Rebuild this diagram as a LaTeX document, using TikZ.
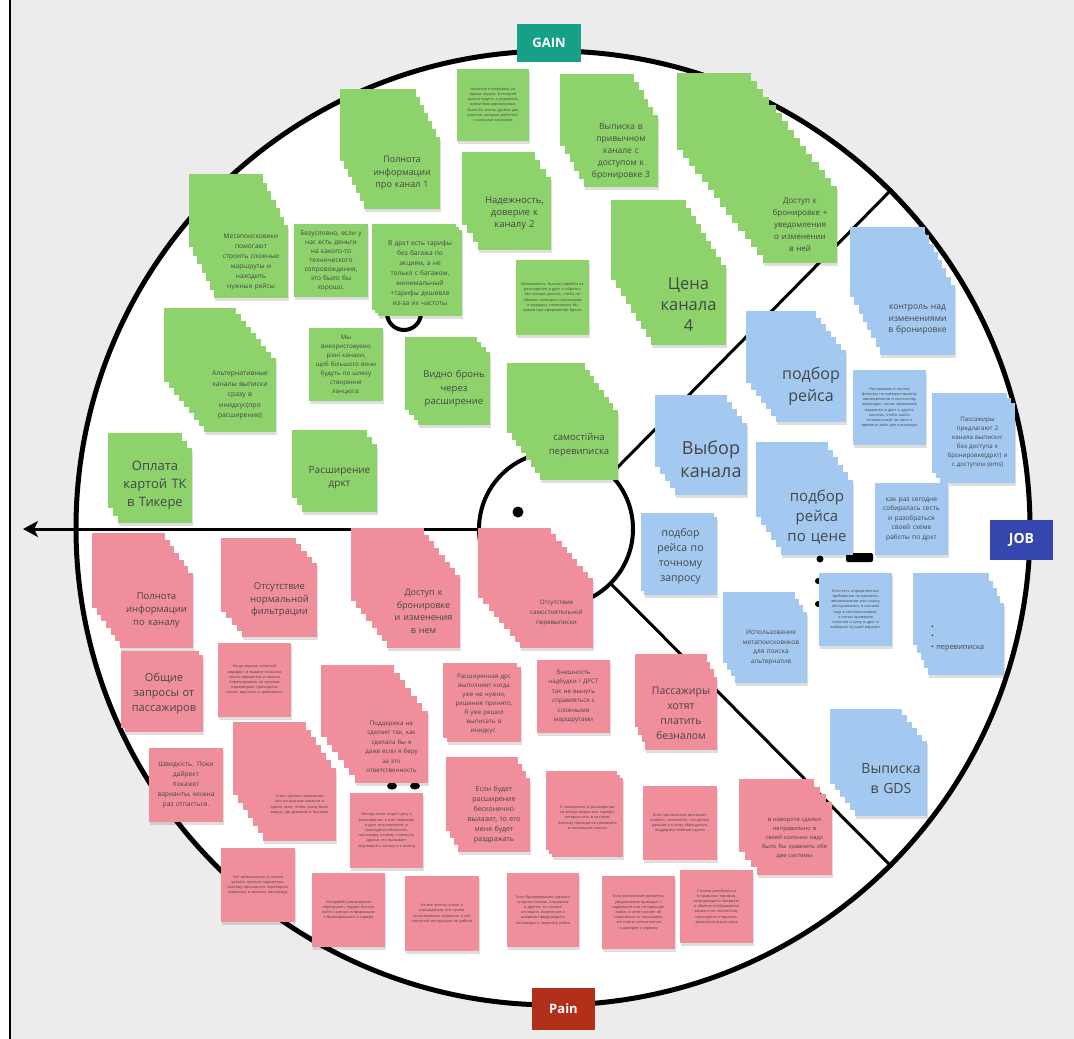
\documentclass[tikz,border=0pt]{standalone}
\usepackage{fontspec}
\setmainfont{Open Sans}
\usetikzlibrary{calc,arrows.meta}
\definecolor{gn}{RGB}{142,210,108}
\definecolor{pk}{RGB}{240,142,156}
\definecolor{bl}{RGB}{163,201,240}
\definecolor{teal}{RGB}{22,160,133}
\definecolor{jobblue}{RGB}{53,70,175}
\definecolor{painred}{RGB}{178,48,26}
\definecolor{bg}{RGB}{236,236,236}
\definecolor{txt}{RGB}{70,70,70}
\newcommand\fs[2]{\fontsize{#1}{#2}\selectfont}
\newcommand\tinytxt{\fs{3.8}{5.2}}
\tikzset{
  note/.style={inner sep=1pt, outer sep=0pt, align=center, text=txt, anchor=north west},
  label box/.style={text=white, font=\bfseries\fs{13}{15}, inner sep=0pt, outer sep=0pt},
}
% stacked note: name, colour, back top-left, W, H, layers, total offset, options, text
\newcommand\stk[9]{%
  \fill[black,opacity=.13] ($(#3)+(#7)+(1,3)$) rectangle ++(#4,#5);
  \foreach \i in {0,...,#6}{\pgfmathsetmacro\f{\i/#6}\fill[#2] ($(#3)+\f*(#7)$) rectangle ++(#4,#5);}
  \pgfmathsetmacro\tw{#4-4}
  \node[note, fill=#2, minimum width=#4pt, minimum height=#5pt, text width=\tw pt, #8] (#1) at ($(#3)+(#7)$) {#9};
}
% single note: name, colour, top-left, W, H, options, text
\newcommand\snt[7]{%
  \fill[black,opacity=.13] ($(#3)+(1,3)$) rectangle ++(#4,#5);
  \pgfmathsetmacro\tw{#4-4}
  \node[note, fill=#2, minimum width=#4pt, minimum height=#5pt, text width=\tw pt, #6] (#1) at (#3) {#7};
}
\begin{document}
\begin{tikzpicture}[x=1pt,y=-1pt]
\useasboundingbox (0,0) rectangle (1074,1039);
\fill[bg] (0,0) rectangle (1074,1039);
\fill[white] (0,0) rectangle (10,1039);
\draw[line width=2pt] (10,0) -- (10,1039);

% circles and dividers
\node[circle, draw=black, line width=5pt, fill=white, minimum size=954pt, inner sep=0pt] (outer) at (553,528) {};
\node[circle, draw=black, line width=4pt, minimum size=154pt, inner sep=0pt] (inner) at (556,529) {};
\node[circle, fill=black, minimum size=11pt, inner sep=0pt] (dot) at (518,512) {};
\coordinate (tip) at (23,529);
\draw[line width=3pt] (inner.45) -- (outer.45);
\draw[line width=3pt] (inner.-45) -- (outer.-45);
\draw[line width=3pt, -{Stealth[length=15pt,width=16pt,inset=4pt]}] (inner.west) -- (tip);

% black fragments peeking out under notes
\draw[line width=4pt] (404,313) circle (17);
\fill[rounded corners=2pt] (846,553) rectangle (873,562);
\fill (820,559) circle (3.5) (818,581) circle (3) (818,604) circle (3);
\fill (392,786) ellipse (5 and 3.5) (415,786) ellipse (5 and 3.5);

% ---------------- GAIN (green) ----------------
\stk{g1}{gn}{340,89}{76}{72}{6}{24,48}{font=\fs{9}{12.5}}{Полнота\\информации\\про канал 1}
\snt{g2}{gn}{457,69}{72}{72}{font=\tinytxt, text width=62pt}{Наличие платформы на одном экране, в которой можно видеть и управлять всеми бронированиями, было бы очень удобно для агентов, которые работают с разными каналами}
\stk{g3}{gn}{560,74}{74}{72}{5}{24,41}{font=\fs{8.5}{12}}{Выписка в\\привычном\\канале с\\доступом к\\бронировке 3}
\stk{g4}{gn}{462,152}{73}{73}{3}{16,25}{font=\fs{9.5}{12}}{Надежность,\\доверие к\\каналу 2}
\snt{g5}{gn}{516,260}{73}{75}{font=\tinytxt, text width=62pt}{Возможность быстро перейти из расширения в дркт и обратно без потери данных, чтобы не вбивать повторно пассажиров и маршрут, сэкономило бы время при оформлении брони}
\stk{g6}{gn}{611,200}{75}{80}{8}{40,65}{font=\fs{16.5}{21}}{Цена\\канала\\4}
\stk{g7}{gn}{677,73}{74}{77}{14}{86,113}{font=\fs{8}{12}}{Доступ к\\бронировке +\\уведомления\\о изменении\\в ней}
\stk{g8}{gn}{189,174}{74}{73}{6}{25,51}{font=\fs{6.6}{10}}{Метапоисковики\\помогают\\строить сложные\\маршруты и\\находить\\нужные рейсы}
\snt{g9}{gn}{294,224}{74}{73}{font=\fs{6.6}{9}}{Безусловно, если у\\нас есть деньги\\на какого-то\\технического\\сопровождения,\\это было бы\\хорошо.}
\stk{g10}{gn}{372,224}{84}{86}{2}{6,6}{font=\fs{6.6}{10}}{В дркт есть тарифы\\без багажа по\\акциям, а не\\только с багажом,\\минимальный\\+тарифы дешевле\\из-за их частоты}
\stk{g11}{gn}{164,308}{72}{74}{8}{40,50}{font=\fs{6.8}{10.5}}{Альтернативные\\каналы выписки\\сразу в\\инидкус(про\\расширение)}
\snt{g12}{gn}{309,328}{74}{73}{font=\fs{6.2}{9}}{Мы\\використовуємо\\різні канали,\\щоб більшого вони\\будуть по шляху\\створення\\ланцюга.}
\stk{g13}{gn}{405,337}{72}{73}{3}{13,15}{font=\fs{9.5}{13.5}}{Видно бронь\\через\\расширение}
\stk{g14}{gn}{108,433}{74}{75}{2}{10,15}{font=\fs{13}{18}}{Оплата\\картой ТК\\в Тикере}
\stk{g15}{gn}{292,430}{75}{68}{2}{10,14}{font=\fs{10}{13}}{Расширение\\дркт}
\stk{g16}{gn}{507,363}{78}{70}{7}{33,47}{font=\fs{9.5}{14}}{самостійна\\перевиписка}

% ---------------- JOB (blue) ----------------
\stk{b1}{bl}{850,227}{75}{70}{7}{30,58}{font=\fs{8.5}{11.5}}{контроль над\\изменениями\\в бронировке}
\stk{b2}{bl}{746,311}{70}{72}{6}{30,39}{font=\fs{16}{22}}{подбор\\рейса}
\snt{b3}{bl}{853,370}{73}{75}{font=\tinytxt, text width=62pt}{Настраиваю в поиске фильтры по времени вылета, авиакомпании и количеству пересадок, потом сравниваю варианты в дркт и других каналах, чтобы найти оптимальный по цене и времени рейс для пассажира}
\stk{b4}{bl}{932,393}{75}{80}{2}{8,10}{font=\fs{6.2}{9}}{Пассажиры\\предлагают 2\\канала выписки:\\без доступа к\\бронировке(дркт) и\\с доступом (ems)}
\stk{b5}{bl}{655,395}{72}{72}{4}{20,28}{font=\fs{18}{23}}{Выбор\\канала}
\stk{b6}{bl}{756,442}{72}{75}{5}{25,38}{font=\fs{15}{20}}{подбор\\рейса\\по цене}
\snt{b7}{bl}{875,483}{73}{72}{font=\fs{6.6}{9.5}}{как раз сегодня\\собиралась сесть\\и разобраться\\своей схеме\\работы по дркт}
\stk{b8}{bl}{641,513}{73}{78}{1}{3,4}{font=\fs{10.5}{15}}{подбор\\рейса по\\точному\\запросу}
\stk{b9}{bl}{723,592}{72}{71}{3}{12,20}{font=\fs{6.5}{9.5}}{Использование\\метапоисковиков\\для поиска\\альтернатив}
\snt{b10}{bl}{819,573}{73}{73}{font=\tinytxt, text width=62pt}{Если есть определённые требования по времени, авиакомпании или классу обслуживания, я сначала ищу в метапоисковике, а потом проверяю наличие и цену в дркт и выбираю лучший вариант}
\stk{b11}{bl}{913,573}{76}{72}{4}{15,30}{font=\fs{7.5}{8.5}, align=left, text width=70pt}{•\\•\\[3pt]• перевиписка}
\stk{b12}{bl}{830,709}{72}{75}{5}{25,32}{font=\fs{14}{20}}{Выписка\\в GDS}

% ---------------- Pain (red) ----------------
\stk{r1}{pk}{92,533}{73}{75}{6}{28,40}{font=\fs{9.5}{13}}{Полнота\\информации\\по каналу}
\stk{r2}{pk}{221,538}{75}{74}{4}{21,25}{font=\fs{9.5}{12.5}}{Отсутствие\\нормальной\\фильтрации}
\stk{r3}{pk}{351,528}{73}{73}{7}{36,47}{font=\fs{9}{12.5}}{Доступ к\\бронировке\\и изменения\\в нем}
\stk{r4}{pk}{478,528}{73}{70}{8}{42,50}{font=\fs{6.2}{10}}{Отсутствие\\самостоятельной\\перевыписки}
\stk{r5}{pk}{121,651}{78}{77}{1}{4,4}{font=\fs{11}{15}}{Общие\\запросы от\\пассажиров}
\snt{r6}{pk}{218,643}{73}{74}{font=\tinytxt, text width=62pt}{Когда ищешь сложный маршрут, в выдаче слишком много вариантов и нельзя отфильтровать по нужным параметрам, приходится искать вручную и сравнивать}
\stk{r7}{pk}{321,665}{73}{72}{6}{34,46}{font=\fs{6.2}{9.5}}{Поддержка не\\сделает так, как\\сделала бы я\\даже если я беру\\за это\\ответственность}
\stk{r8}{pk}{443,663}{74}{75}{1}{4,4}{font=\fs{6.2}{9}}{Расширенная дрс\\выполняет когда\\уже не нужно,\\решение принято.\\Я уже решил\\выписать в\\инидкус.}
\snt{r9}{pk}{537,660}{73}{73}{font=\fs{6.2}{9.5}}{Внешность\\надбудки / ДРСТ\\так не вынуть\\справляться с\\сложными\\маршрутами}
\stk{r10}{pk}{635,654}{72}{73}{3}{10,23}{font=\fs{10.5}{15}}{Пассажиры\\хотят\\платить\\безналом}
\snt{r11}{pk}{149,748}{74}{74}{font=\fs{6.6}{10}}{Швидкість. Поки\\дайрект\\покажет\\варианты, можна\\раз отпасться.}
\stk{r12}{pk}{233,722}{73}{73}{6}{30,46}{font=\tinytxt, text width=62pt}{Стоит сделать сравнение цен по разным каналам в одном окне, чтобы сразу было видно, где дешевле и быстрее}
\snt{r13}{pk}{350,793}{73}{75}{font=\tinytxt, text width=62pt}{Иногда агент видит цену в расширении, а при переходе в дркт она меняется, и приходится объяснять пассажиру, почему стоимость другая, это вызывает недоверие к каналу и к агенту}
\stk{r14}{pk}{446,757}{72}{74}{3}{12,21}{font=\fs{7}{10}}{Если будет\\расширение\\бесконечно\\вылазит, то его\\мене будет\\раздражать}
\stk{r15}{pk}{546,771}{71}{79}{2}{6,7}{font=\tinytxt, text width=60pt}{К сожалению, в расширении не всегда видны все тарифы, которые есть в системе, поэтому приходится проверять в нескольких местах}
\snt{r16}{pk}{643,786}{74}{74}{font=\tinytxt, text width=62pt}{Если при выписке возникает ошибка, непонятно, что делать дальше и к кому обращаться, поддержка отвечает долго}
\stk{r17}{pk}{739,779}{75}{73}{3}{18,23}{font=\fs{5.8}{9}}{в навороте сделки\\неправильно в\\своей колонки надо\\было бы сравнить обе\\две системы}
\snt{r18}{pk}{221,848}{74}{74}{font=\tinytxt, text width=62pt}{Нет возможности в поиске указать нужные параметры, поэтому приходится перебирать варианты и звонить пассажиру}
\snt{r19}{pk}{312,873}{73}{74}{font=\tinytxt, text width=62pt}{Интерфейс расширения перегружен, трудно быстро найти нужную информацию о бронировании и тарифе}
\snt{r20}{pk}{405,876}{74}{75}{font=\tinytxt, text width=62pt}{Не все агенты знают о расширении, его нужно устанавливать отдельно и нет понятной инструкции по работе}
\snt{r21}{pk}{507,873}{72}{74}{font=\tinytxt, text width=62pt}{Если бронирование сделано в одном канале, а выписка в другом, то сложно отследить изменения и вовремя предупредить пассажира о переносе рейса}
\snt{r22}{pk}{602,876}{73}{73}{font=\tinytxt, text width=62pt}{Если расписание меняется, уведомление приходит с задержкой или не приходит вовсе, и агент узнаёт об изменении от пассажира, что портит впечатление и доверие к сервису}
\snt{r23}{pk}{680,870}{73}{73}{font=\tinytxt, text width=62pt}{Сложно разобраться в правилах тарифов, информация о возврате и обмене отображается мелко и не полностью, приходится открывать дополнительные окна}

% ---------------- section labels ----------------
\node[label box, fill=teal, minimum width=64pt, minimum height=38pt] (gain) at (549,43) {GAIN};
\node[label box, fill=jobblue, minimum width=63pt, minimum height=40pt, font=\bfseries\fs{14}{16}] (job) at (1021.5,540) {JOB};
\node[label box, fill=painred, minimum width=63pt, minimum height=42pt] (pain) at (563.5,1009) {Pain};
\end{tikzpicture}
\end{document}
